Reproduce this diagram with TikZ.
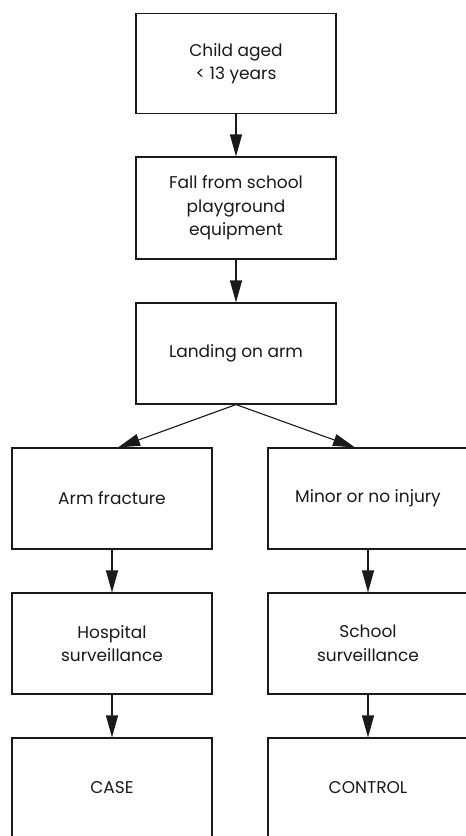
\documentclass[tikz,border=0pt]{standalone}
\usepackage{fontspec}
\setmainfont{Poppins}
\usetikzlibrary{arrows.meta}
\definecolor{ink}{HTML}{1A1A1A}
\begin{document}
\begin{tikzpicture}[x=1pt,y=-1pt,
  box/.style={draw=ink,line width=1.1pt,rectangle,minimum width=200pt,minimum height=100pt,
    align=center,inner sep=0pt,text=ink,font=\fontsize{17}{23.5}\selectfont},
  arr/.style={draw=ink,line width=1.1pt,-{Triangle[length=22pt,width=12pt]}}]
\useasboundingbox (0,0) rectangle (466,836);
\clip (0,0) rectangle (466,836);
\fill[white] (0,0) rectangle (466,836);
\node[box] (child) at (236,63.5) {Child aged\\< 13 years};
\node[box,minimum height=102pt] (fall) at (236,208) {Fall from school\\playground\\equipment};
\node[box,minimum height=101pt] (land) at (236,353.5) {Landing on arm};
\node[box,minimum height=101pt] (arm) at (112,498.5) {Arm fracture};
\node[box,minimum height=101pt] (minor) at (368,498.5) {Minor or no injury};
\node[box,minimum height=101pt] (hosp) at (112,643.5) {Hospital\\surveillance};
\node[box,minimum height=101pt] (school) at (368,643.5) {School\\surveillance};
\node[box] (case) at (112,788) {CASE};
\node[box] (control) at (368,788) {CONTROL};
\draw[arr] (child.south) -- (fall.north);
\draw[arr] (fall.south) -- (land.north);
\draw[arr] (land.south) -- ([xshift=6pt]arm.north);
\draw[arr] (land.south) -- ([xshift=-13pt]minor.north);
\draw[arr] (arm.south) -- (hosp.north);
\draw[arr] (minor.south) -- (school.north);
\draw[arr] (hosp.south) -- (case.north);
\draw[arr] (school.south) -- (control.north);
\end{tikzpicture}
\end{document}
